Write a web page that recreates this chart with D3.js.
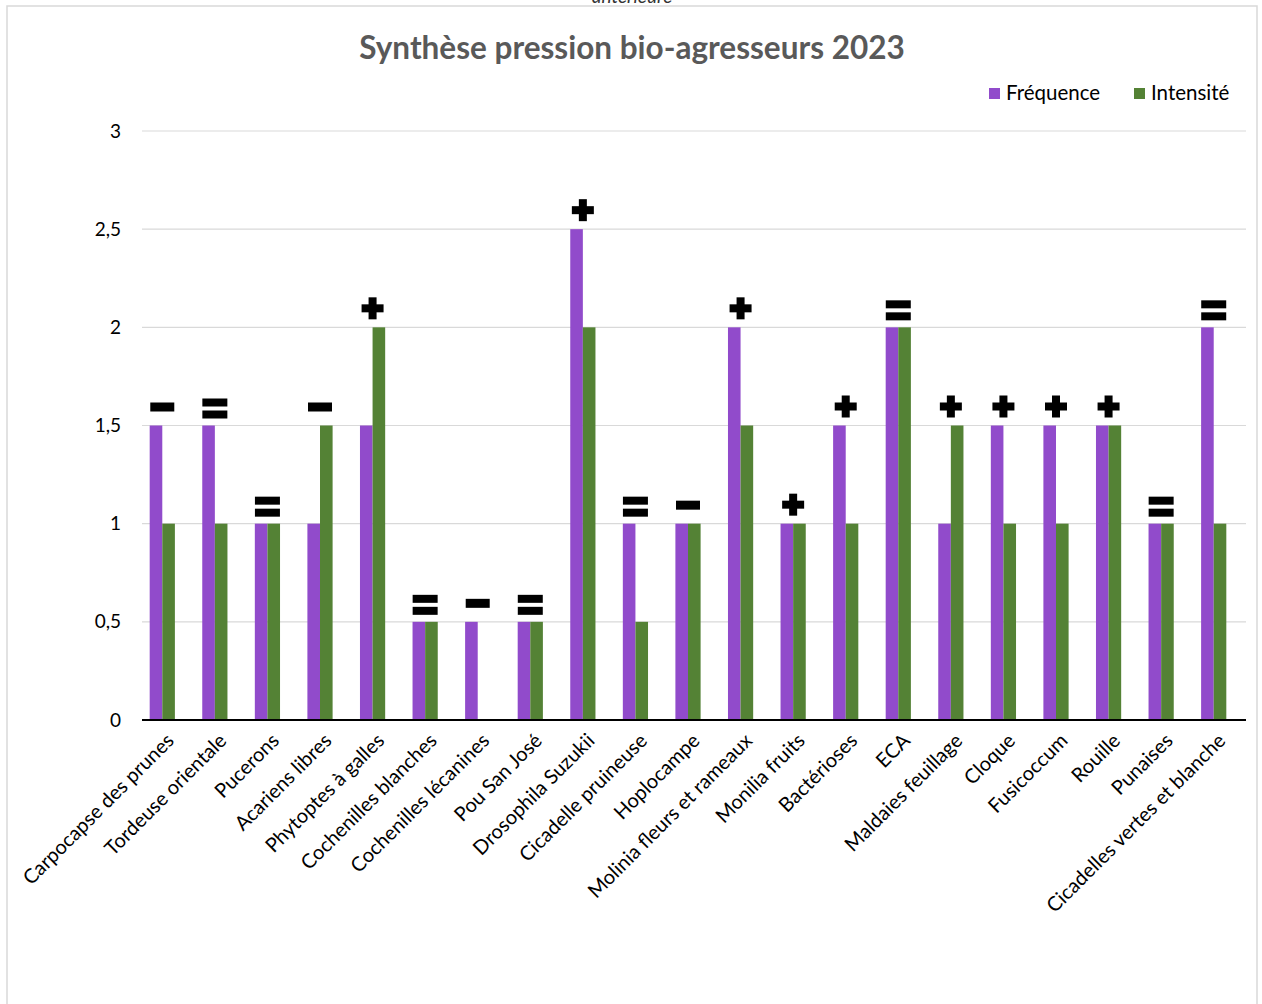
<!DOCTYPE html>
<html>
<head>
<meta charset="utf-8">
<script src="https://cdn.jsdelivr.net/npm/d3@7"></script>
<style>
  body { margin: 0; background: #fff; }
  text { font-family: Lato, "Open Sans", sans-serif; }
</style>
</head>
<body>
<div id="chart"></div>
<script>
// data
var categories = ["Carpocapse des prunes", "Tordeuse orientale", "Pucerons", "Acariens libres",
  "Phytoptes à galles", "Cochenilles blanches", "Cochenilles lécanines", "Pou San José",
  "Drosophila Suzukii", "Cicadelle pruineuse", "Hoplocampe", "Molinia fleurs et rameaux",
  "Monilia fruits", "Bactérioses", "ECA", "Maldaies feuillage", "Cloque", "Fusicoccum",
  "Rouille", "Punaises", "Cicadelles vertes et blanche"];
var frequence = [1.5, 1.5, 1, 1, 1.5, 0.5, 0.5, 0.5, 2.5, 1, 1, 2, 1, 1.5, 2, 1, 1.5, 1.5, 1.5, 1, 2];
var intensite = [1, 1, 1, 1.5, 2, 0.5, 0, 0.5, 2, 0.5, 1, 1.5, 1, 1, 2, 1.5, 1, 1, 1.5, 1, 1];
// trend vs previous year: "+", "=", "-"
var tendance = ["-", "=", "=", "-", "+", "=", "-", "=", "+", "=", "-", "+", "+", "+", "=", "+", "+", "+", "+", "=", "="];
var seriesNames = ["Fréquence", "Intensité"];
var yTicks = [0, 0.5, 1, 1.5, 2, 2.5, 3];

var W = 1262, H = 1004;
var colors = ["#914bcb", "#548235"];

var svg = d3.select("#chart").append("svg")
  .attr("width", W)
  .attr("height", H);

// frame
svg.append("rect")
  .attr("x", 7).attr("y", 6)
  .attr("width", 1250).attr("height", 1010)
  .attr("fill", "none")
  .attr("stroke", "#d9d9d9")
  .attr("stroke-width", 1.5);

// leftover caption cut off at the top
svg.append("text")
  .attr("x", 632).attr("y", 3)
  .attr("text-anchor", "middle")
  .style("font-style", "italic")
  .style("font-size", "19px")
  .attr("fill", "#333")
  .text("antérieure");

svg.append("text")
  .attr("x", 632).attr("y", 59)
  .attr("text-anchor", "middle")
  .style("font-size", "31.5px")
  .style("font-weight", "bold")
  .attr("fill", "#595959")
  .text("Synthèse pression bio-agresseurs 2023");

var plotLeft = 142, plotRight = 1246;

var x0 = d3.scaleBand()
  .domain(categories)
  .range([136, 1240]);

var x1 = d3.scaleBand()
  .domain(seriesNames)
  .range([x0.bandwidth() / 2 - 12.6, x0.bandwidth() / 2 + 12.6]);

var y = d3.scaleLinear()
  .domain([0, 3])
  .range([720, 131]);

// grid
svg.append("g")
  .selectAll("line")
  .data(yTicks.filter(function(d){ return d > 0; }))
  .enter().append("line")
  .attr("x1", plotLeft).attr("x2", plotRight)
  .attr("y1", function(d){ return y(d); })
  .attr("y2", function(d){ return y(d); })
  .attr("stroke", "#d9d9d9")
  .attr("stroke-width", 1.2);

// y labels
var yAxis = d3.axisLeft(y)
  .tickValues(yTicks)
  .tickSize(0)
  .tickPadding(0)
  .tickFormat(function(d){ return String(d).replace(".", ","); });

var yg = svg.append("g")
  .attr("transform", "translate(121,0)")
  .call(yAxis);
yg.select(".domain").remove();
yg.selectAll("text")
  .style("font-size", "19px")
  .style("font-family", "Lato, 'Open Sans', sans-serif")
  .attr("fill", "#000");

// bars
var rows = categories.map(function(c, i){
  return { cat: c, vals: [frequence[i], intensite[i]], trend: tendance[i] };
});

var groups = svg.selectAll(".cat")
  .data(rows)
  .enter().append("g")
  .attr("class", "cat")
  .attr("transform", function(d){ return "translate(" + x0(d.cat) + ",0)"; });

groups.selectAll("rect")
  .data(function(d){ return d.vals.map(function(v, k){ return { s: seriesNames[k], v: v, k: k }; }); })
  .enter().append("rect")
  .attr("x", function(d){ return x1(d.s); })
  .attr("width", x1.bandwidth())
  .attr("y", function(d){ return y(d.v); })
  .attr("height", function(d){ return y(0) - y(d.v); })
  .attr("fill", function(d){ return colors[d.k]; });

// baseline
svg.append("line")
  .attr("x1", plotLeft).attr("x2", plotRight)
  .attr("y1", y(0)).attr("y2", y(0))
  .attr("stroke", "#000")
  .attr("stroke-width", 1.8);

// trend marks
groups.each(function(d){
  var g = d3.select(this).append("g")
    .attr("transform", "translate(" + (x0.bandwidth() / 2) + "," + (y(d3.max(d.vals)) - 19) + ")");
  var parts;
  if (d.trend == "+") parts = [[-11, -4, 22, 8], [-4, -11, 8, 22]];
  else if (d.trend == "=") parts = [[-12.5, -8, 25, 8], [-12.5, 4, 25, 8]];
  else parts = [[-12, -4, 24, 9]];
  g.selectAll("rect")
    .data(parts)
    .enter().append("rect")
    .attr("x", function(p){ return p[0]; })
    .attr("y", function(p){ return p[1]; })
    .attr("width", function(p){ return p[2]; })
    .attr("height", function(p){ return p[3]; })
    .attr("fill", "#000");
});

// category labels
svg.append("g")
  .selectAll("text")
  .data(categories)
  .enter().append("text")
  .attr("transform", function(d){
    return "translate(" + (x0(d) + x0.bandwidth() / 2 + 8) + ",737) rotate(-45)";
  })
  .attr("text-anchor", "end")
  .attr("dy", "0.35em")
  .style("font-size", "20px")
  .attr("fill", "#000")
  .text(function(d){ return d; });

// legend
var legend = svg.append("g");
var legendX = [989, 1134];
seriesNames.forEach(function(name, k){
  legend.append("rect")
    .attr("x", legendX[k]).attr("y", 88)
    .attr("width", 11).attr("height", 11)
    .attr("fill", colors[k]);
  legend.append("text")
    .attr("x", legendX[k] + 17).attr("y", 100)
    .style("font-size", "20.5px")
    .attr("fill", "#000")
    .text(name);
});
</script>
</body>
</html>
